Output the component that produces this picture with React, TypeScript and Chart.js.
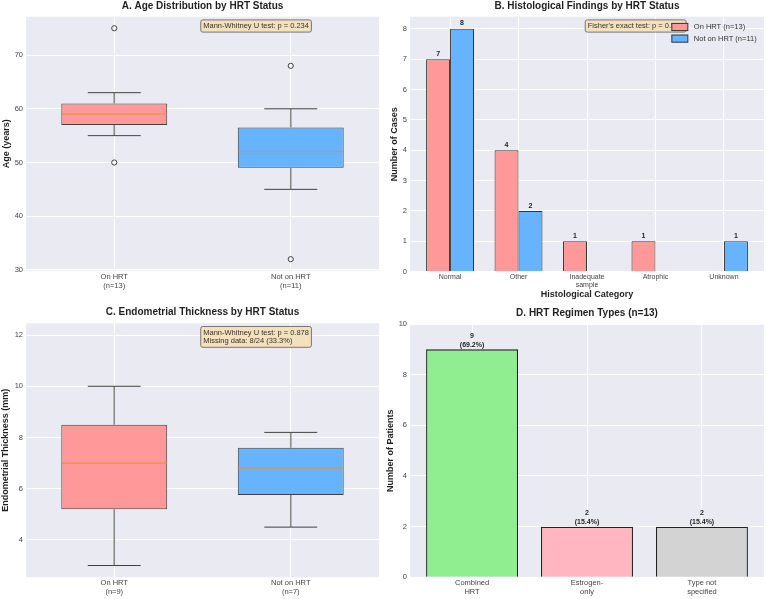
import React, { useEffect, useRef } from "react";
import { Chart, registerables } from "chart.js";

Chart.register(...registerables);

// ---------- shared look ----------
const FONT = "'Liberation Sans', Arial, Helvetica, sans-serif";
const PANEL_BG = "#EAEAF2";
const GRID = "#FFFFFF";
const TICK_COLOR = "#444444";
const LABEL_COLOR = "#1f1f1f";
const ON_COLOR = "#FF9999";
const OFF_COLOR = "#66B3FF";
const MEDIAN_COLOR = "rgba(228,140,45,0.8)";
const BOX_WIDTH = 0.6;

// ---------- A. Age distribution ----------
const GROUPS = ["On HRT", "Not on HRT"];
const GROUP_POS = [1, 2];
const AGE_N = [13, 11];
const AGE_LOW = [55, 45];
const AGE_Q1 = [57, 49];
const AGE_MEDIAN = [59, 52];
const AGE_Q3 = [61, 56.5];
const AGE_HIGH = [63, 60];
const AGE_OUTLIERS = [[50, 75], [68, 32]];
const AGE_TICKS = [30, 40, 50, 60, 70];
const AGE_P = "0.234";

// ---------- B. Histological findings ----------
const HISTO_CATEGORIES = [["Normal"], ["Other"], ["Inadequate", "sample"], ["Atrophic"], ["Unknown"]];
const HISTO_ON_HRT = [7, 4, 1, 1, 0];
const HISTO_NOT_ON_HRT = [8, 2, 0, 0, 1];
const HISTO_TICKS = [0, 1, 2, 3, 4, 5, 6, 7, 8];
const FISHER_P = "0.510";

// ---------- C. Endometrial thickness ----------
const THICK_N = [9, 7];
const THICK_LOW = [3, 4.5];
const THICK_Q1 = [5.2, 5.75];
const THICK_MEDIAN = [7.0, 6.8];
const THICK_Q3 = [8.5, 7.6];
const THICK_HIGH = [10, 8.2];
const THICK_OUTLIERS: number[][] = [[], []];
const THICK_TICKS = [4, 6, 8, 10, 12];
const THICK_P = "0.878";
const THICK_MISSING = 8;
const THICK_TOTAL = 24;

// ---------- D. HRT regimen types ----------
const REGIMENS = [["Combined", "HRT"], ["Estrogen-", "only"], ["Type not", "specified"]];
const REGIMEN_COUNTS = [9, 2, 2];
const REGIMEN_COLORS = ["#90EE90", "#FFB6C1", "#D3D3D3"];
const REGIMEN_TICKS = [0, 2, 4, 6, 8, 10];

// ---------- helpers ----------
type Seg = [number, number, number, number];

function segPoints(segs: Seg[]) {
  const pts: any[] = [];
  segs.forEach(([x1, y1, x2, y2], i) => {
    if (i > 0) pts.push({ x: x1, y: null });
    pts.push({ x: x1, y: y1 }, { x: x2, y: y2 });
  });
  return pts;
}

function boxDatasets(
  pos: number[], low: number[], q1: number[], med: number[], q3: number[], high: number[],
  outliers: number[][], colors: string[]
) {
  const half = BOX_WIDTH / 2;
  const cap = BOX_WIDTH / 4;
  const whiskers: Seg[] = [];
  const caps: Seg[] = [];
  const medians: Seg[] = [];
  pos.forEach((p, i) => {
    whiskers.push([p, q3[i], p, high[i]], [p, q1[i], p, low[i]]);
    caps.push([p - cap, high[i], p + cap, high[i]], [p - cap, low[i], p + cap, low[i]]);
    medians.push([p - half, med[i], p + half, med[i]]);
  });
  const fliers: any[] = [];
  pos.forEach((p, i) => outliers[i].forEach((v) => fliers.push({ x: p, y: v })));
  return [
    {
      type: "bar",
      data: pos.map((p, i) => ({ x: p, y: [q1[i], q3[i]] })),
      backgroundColor: colors,
      borderColor: "#404040",
      borderWidth: 1,
      borderSkipped: false,
      barPercentage: BOX_WIDTH,
      categoryPercentage: 1,
      order: 4,
    },
    { type: "line", data: segPoints(whiskers), borderColor: "#8a8a8a", borderWidth: 1.6, pointRadius: 0, fill: false, spanGaps: false, order: 3 },
    { type: "line", data: segPoints(caps), borderColor: "#404040", borderWidth: 1, pointRadius: 0, fill: false, spanGaps: false, order: 2 },
    { type: "line", data: segPoints(medians), borderColor: MEDIAN_COLOR, borderWidth: 1.2, pointRadius: 0, fill: false, spanGaps: false, order: 1 },
    {
      type: "scatter",
      data: fliers,
      pointStyle: "circle",
      pointRadius: 2.6,
      borderColor: "#333333",
      backgroundColor: "rgba(0,0,0,0)",
      borderWidth: 0.9,
      order: 0,
    },
  ];
}

function yScale(min: number, max: number, ticks: number[], title: string, titlePad: number) {
  return {
    type: "linear",
    min,
    max,
    afterBuildTicks: (s: any) => { s.ticks = ticks.map((v) => ({ value: v })); },
    afterFit: (s: any) => { s.width = 26; },
    grid: { color: GRID, lineWidth: 1, drawTicks: false },
    border: { display: false },
    ticks: { color: TICK_COLOR, font: { size: 7.5, family: FONT }, padding: 3, autoSkip: false },
    title: {
      display: true,
      text: title,
      color: LABEL_COLOR,
      font: { size: 9, weight: "bold", family: FONT },
      padding: { top: titlePad, bottom: 0 },
    },
  };
}

function xScale(
  min: number, max: number, positions: number[], labels: string[][], height: number,
  fontSize: number, pad: number, title?: string
) {
  return {
    type: "linear",
    min,
    max,
    offset: false,
    afterBuildTicks: (s: any) => { s.ticks = positions.map((v) => ({ value: v })); },
    afterFit: (s: any) => { s.height = height; },
    grid: { color: GRID, lineWidth: 1, drawTicks: false, offset: false },
    border: { display: false },
    ticks: {
      color: TICK_COLOR,
      font: { size: fontSize, family: FONT },
      padding: pad,
      autoSkip: false,
      maxRotation: 0,
      minRotation: 0,
      callback: (v: number) => {
        const i = positions.indexOf(v);
        return i >= 0 ? labels[i] : "";
      },
    },
    title: title
      ? {
          display: true,
          text: title,
          color: LABEL_COLOR,
          font: { size: 9, weight: "bold", family: FONT },
          padding: { top: 0, bottom: 0 },
        }
      : { display: false },
  };
}

interface DecorCfg {
  title: string;
  titleY: number;
  note?: string[];
  legend?: boolean;
  valueLabels?: (v: number) => string[] | null;
  labelGap?: number;
}

function decor(cfg: DecorCfg) {
  return {
    id: "decor",
    beforeDraw(chart: any) {
      const { ctx, chartArea: ca } = chart;
      ctx.save();
      ctx.fillStyle = PANEL_BG;
      ctx.fillRect(ca.left, ca.top, ca.right - ca.left, ca.bottom - ca.top);
      ctx.restore();
    },
    afterDatasetsDraw(chart: any) {
      if (!cfg.valueLabels) return;
      const ctx = chart.ctx;
      ctx.save();
      ctx.font = `bold 7px ${FONT}`;
      ctx.fillStyle = LABEL_COLOR;
      ctx.textAlign = "center";
      ctx.textBaseline = "middle";
      chart.data.datasets.forEach((ds: any, di: number) => {
        if (ds.type && ds.type !== "bar") return;
        const meta = chart.getDatasetMeta(di);
        meta.data.forEach((el: any, i: number) => {
          const v = ds.data[i].y;
          const lines = cfg.valueLabels!(v);
          if (!lines) return;
          const lh = 9.3;
          lines.forEach((t, k) => {
            const y = el.y - (cfg.labelGap ?? 5) - (lines.length - 1 - k) * lh;
            ctx.fillText(t, el.x, y);
          });
        });
      });
      ctx.restore();
    },
    afterDraw(chart: any) {
      const { ctx, chartArea: ca } = chart;
      ctx.save();
      // panel title
      ctx.font = `bold 10px ${FONT}`;
      ctx.fillStyle = LABEL_COLOR;
      ctx.textAlign = "center";
      ctx.textBaseline = "middle";
      ctx.fillText(cfg.title, (ca.left + ca.right) / 2, cfg.titleY);

      // statistics note
      if (cfg.note) {
        ctx.font = `7.5px ${FONT}`;
        const lh = 8.6;
        const w = Math.max(...cfg.note.map((t) => ctx.measureText(t).width)) + 5;
        const h = cfg.note.length * lh + 3.6;
        const x = ca.left + 0.495 * (ca.right - ca.left);
        const y = ca.top + 3.2;
        ctx.beginPath();
        ctx.roundRect(x, y, w, h, 2);
        ctx.fillStyle = "rgba(245,222,179,0.85)";
        ctx.fill();
        ctx.strokeStyle = "#5a5a5a";
        ctx.lineWidth = 0.8;
        ctx.stroke();
        ctx.fillStyle = "#333333";
        ctx.textAlign = "left";
        cfg.note.forEach((t, i) => ctx.fillText(t, x + 2.5, y + 1.8 + lh * (i + 0.5)));
      }

      // legend
      if (cfg.legend) {
        ctx.font = `7.5px ${FONT}`;
        const items = chart.data.datasets.filter((d: any) => d.label);
        const tw = Math.max(...items.map((d: any) => ctx.measureText(d.label).width));
        const textX = ca.right - 7.3 - tw;
        const patchX = textX - 6 - 16;
        items.forEach((d: any, i: number) => {
          const cy = ca.top + 10.3 + i * 11.6;
          ctx.fillStyle = d.backgroundColor;
          ctx.fillRect(patchX, cy - 3.6, 16, 7.2);
          ctx.strokeStyle = "#333333";
          ctx.lineWidth = 1;
          ctx.strokeRect(patchX, cy - 3.6, 16, 7.2);
          ctx.fillStyle = "#333333";
          ctx.textAlign = "left";
          ctx.textBaseline = "middle";
          ctx.fillText(d.label, textX, cy);
        });
      }
      ctx.restore();
    },
  };
}

function baseOptions(padding: any, x: any, y: any) {
  return {
    responsive: false,
    animation: false,
    events: [],
    devicePixelRatio: 1,
    layout: { padding },
    plugins: { legend: { display: false }, tooltip: { enabled: false }, title: { display: false } },
    scales: { x, y },
  };
}

const sum = (a: number[]) => a.reduce((s, v) => s + v, 0);

// ---------- panel configs ----------
function buildAge(): any {
  const labels = GROUPS.map((g, i) => [g, `(n=${AGE_N[i]})`]);
  return {
    type: "bar",
    data: {
      datasets: boxDatasets(GROUP_POS, AGE_LOW, AGE_Q1, AGE_MEDIAN, AGE_Q3, AGE_HIGH, AGE_OUTLIERS, [ON_COLOR, OFF_COLOR]),
    },
    options: baseOptions(
      { top: 16.7, right: 5, bottom: 0, left: 0 },
      xScale(0.5, 2.5, GROUP_POS, labels, 29.3, 7.5, 1.5),
      yScale(29.85, 77.15, AGE_TICKS, "Age (years)", 1.6)
    ),
    plugins: [decor({ title: "A. Age Distribution by HRT Status", titleY: 6.2, note: [`Mann-Whitney U test: p = ${AGE_P}`] })],
  };
}

function buildHisto(): any {
  const pos = HISTO_CATEGORIES.map((_, i) => i);
  return {
    type: "bar",
    data: {
      datasets: [
        {
          label: `On HRT (n=${sum(HISTO_ON_HRT)})`,
          data: HISTO_ON_HRT.map((v, i) => ({ x: i, y: v })),
          backgroundColor: ON_COLOR,
          borderColor: "#333333",
          borderWidth: 1,
          categoryPercentage: 0.7,
          barPercentage: 1,
        },
        {
          label: `Not on HRT (n=${sum(HISTO_NOT_ON_HRT)})`,
          data: HISTO_NOT_ON_HRT.map((v, i) => ({ x: i, y: v })),
          backgroundColor: OFF_COLOR,
          borderColor: "#333333",
          borderWidth: 1,
          categoryPercentage: 0.7,
          barPercentage: 1,
        },
      ],
    },
    options: baseOptions(
      { top: 16.7, right: 3, bottom: 0, left: 0 },
      xScale(-0.585, 4.585, pos, HISTO_CATEGORIES, 28.3, 7, 1, "Histological Category"),
      yScale(0, 8.4, HISTO_TICKS, "Number of Cases", 5.6)
    ),
    plugins: [
      decor({
        title: "B. Histological Findings by HRT Status",
        titleY: 6.3,
        note: [`Fisher's exact test: p = ${FISHER_P}`],
        legend: true,
        valueLabels: (v) => (v > 0 ? [String(v)] : null),
        labelGap: 5.3,
      }),
    ],
  };
}

function buildThickness(): any {
  const labels = GROUPS.map((g, i) => [g, `(n=${THICK_N[i]})`]);
  const missingPct = ((THICK_MISSING / THICK_TOTAL) * 100).toFixed(1);
  return {
    type: "bar",
    data: {
      datasets: boxDatasets(GROUP_POS, THICK_LOW, THICK_Q1, THICK_MEDIAN, THICK_Q3, THICK_HIGH, THICK_OUTLIERS, [ON_COLOR, OFF_COLOR]),
    },
    options: baseOptions(
      { top: 23.3, right: 5, bottom: 0, left: 0 },
      xScale(0.5, 2.5, GROUP_POS, labels, 21.7, 7.5, 1.5),
      yScale(2.54, 12.46, THICK_TICKS, "Endometrial Thickness (mm)", 0.6)
    ),
    plugins: [
      decor({
        title: "C. Endometrial Thickness by HRT Status",
        titleY: 12.7,
        note: [
          `Mann-Whitney U test: p = ${THICK_P}`,
          `Missing data: ${THICK_MISSING}/${THICK_TOTAL} (${missingPct}%)`,
        ],
      }),
    ],
  };
}

function buildRegimen(): any {
  const total = sum(REGIMEN_COUNTS);
  const pos = REGIMENS.map((_, i) => i);
  return {
    type: "bar",
    data: {
      datasets: [
        {
          data: REGIMEN_COUNTS.map((v, i) => ({ x: i, y: v })),
          backgroundColor: REGIMEN_COLORS,
          borderColor: "#222222",
          borderWidth: 1.3,
          categoryPercentage: 1,
          barPercentage: 0.8,
        },
      ],
    },
    options: baseOptions(
      { top: 24, right: 3, bottom: 0, left: 0 },
      xScale(-0.54, 2.54, pos, REGIMENS, 21.7, 7.5, 1.5),
      yScale(0, 10, REGIMEN_TICKS, "Number of Patients", 1.3)
    ),
    plugins: [
      decor({
        title: `D. HRT Regimen Types (n=${total})`,
        titleY: 13.3,
        valueLabels: (v) => [String(v), `(${((v / total) * 100).toFixed(1)}%)`],
        labelGap: 4.4,
      }),
    ],
  };
}

function Panel({ build, left, top, width, height }: { build: () => any; left: number; top: number; width: number; height: number }) {
  const ref = useRef<HTMLCanvasElement>(null);
  useEffect(() => {
    const chart = new Chart(ref.current as HTMLCanvasElement, build());
    return () => chart.destroy();
  }, [build]);
  return (
    <canvas
      ref={ref}
      width={width}
      height={height}
      style={{ position: "absolute", left, top, width, height, display: "block" }}
    />
  );
}

export default function App() {
  return (
    <div style={{ position: "absolute", left: 0, top: 0, width: 767, height: 599, background: "#FFFFFF", overflow: "hidden" }}>
      <Panel build={buildAge} left={0} top={0} width={384} height={300} />
      <Panel build={buildHisto} left={384} top={0} width={383} height={300} />
      <Panel build={buildThickness} left={0} top={300} width={384} height={299} />
      <Panel build={buildRegimen} left={384} top={300} width={383} height={299} />
    </div>
  );
}
